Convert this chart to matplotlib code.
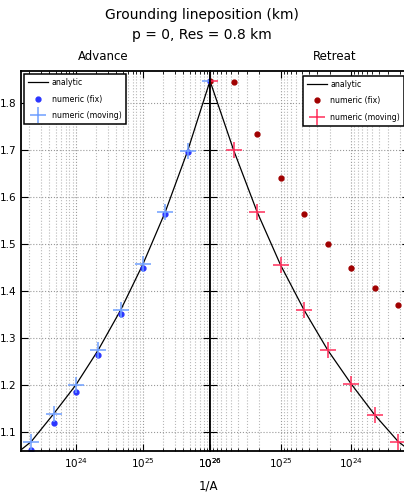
import matplotlib
matplotlib.use("Agg")

import matplotlib.pyplot as plt
import numpy as np

# 1/A sample positions (advance runs up to 1e26, retreat runs back down)
inv_A = [2.15e23, 4.64e23, 1e24, 2.15e24, 4.64e24, 1e25, 2.15e25, 4.64e25, 1e26]

# analytic curve
analytic_x = [1.5e23] + inv_A
analytic_adv = [1.062, 1.080, 1.139, 1.201, 1.275, 1.360, 1.458, 1.569, 1.699, 1.848]
analytic_ret = [1.062, 1.080, 1.137, 1.203, 1.275, 1.360, 1.456, 1.569, 1.701, 1.848]

# advance
adv_fix = [1.062, 1.120, 1.186, 1.265, 1.351, 1.450, 1.564, 1.696, 1.848]
adv_moving = [1.080, 1.139, 1.201, 1.275, 1.360, 1.458, 1.569, 1.699, 1.848]

# retreat (same x positions, listed small -> large)
ret_fix = [1.371, 1.406, 1.449, 1.501, 1.564, 1.642, 1.734, 1.845, 1.848]
ret_moving = [1.080, 1.137, 1.203, 1.275, 1.360, 1.456, 1.569, 1.701, 1.848]

xmin, xmax = 10**23.18, 1e26
ylim = (1.06, 1.869)
yticks = [1.1, 1.2, 1.3, 1.4, 1.5, 1.6, 1.7, 1.8]


def style_axes(ax):
    ax.set_xscale("log")
    ax.set_ylim(*ylim)
    ax.set_yticks(yticks)
    ax.grid(True, which="major", axis="both", color="0.6", linestyle=":", linewidth=0.8)
    ax.grid(True, which="minor", axis="x", color="0.72", linestyle=":", linewidth=0.8)
    ax.tick_params(which="both", direction="in", top=True, right=True, labelsize=7.5)
    ax.tick_params(which="major", length=5)
    ax.tick_params(which="minor", length=2.5)
    for s in ax.spines.values():
        s.set_linewidth(1.3)


leg_opts = dict(prop={"size": 6.2, "stretch": "condensed"}, numpoints=1, fancybox=False,
                framealpha=1, edgecolor="black", handlelength=2.3,
                labelspacing=0.85, handletextpad=0.4, borderpad=0.5)

fig = plt.figure(figsize=(4.04, 4.94), dpi=100)
ax1 = fig.add_axes([21 / 404, 1 - 451 / 494, 189 / 404, 380 / 494])
ax2 = fig.add_axes([210 / 404, 1 - 451 / 494, 199 / 404, 380 / 494])

# advance panel
ax1.plot(analytic_x, analytic_adv, color="black", lw=0.9, label="analytic")
ax1.plot(inv_A, adv_fix, "o", color="#2b35ff", ms=3.5, label="numeric (fix)")
ax1.plot(inv_A, adv_moving, "+", color="#6f9fff", ms=12, mew=1.1, label="numeric (moving)")
style_axes(ax1)
ax1.set_xlim(xmin, xmax)
leg = ax1.legend(loc="upper left", borderaxespad=0.35, **leg_opts)
leg.get_frame().set_linewidth(1.1)

# retreat panel
ax2.plot(analytic_x, analytic_ret, color="black", lw=0.9, label="analytic")
ax2.plot(inv_A, ret_fix, "o", color="#a00000", ms=3.5, label="numeric (fix)")
ax2.plot(inv_A, ret_moving, "+", color="#ff2d5a", ms=12, mew=1.1, label="numeric (moving)")
style_axes(ax2)
ax2.set_xlim(xmax, xmin)
ax2.tick_params(labelleft=False)
leg = ax2.legend(loc="upper right", borderaxespad=0.55, **leg_opts)
leg.get_frame().set_linewidth(1.1)

fig.text(0.5, 1 - 15 / 494, "Grounding lineposition (km)", ha="center", va="center", fontsize=10)
fig.text(0.5, 1 - 35 / 494, "p = 0, Res = 0.8 km", ha="center", va="center", fontsize=10)
fig.text(103 / 404, 1 - 56 / 494, "Advance", ha="center", va="center", fontsize=8.5)
fig.text(335 / 404, 1 - 56 / 494, "Retreat", ha="center", va="center", fontsize=8.5)
fig.text(208 / 404, 1 - 486 / 494, "1/A", ha="center", va="center", fontsize=8.5)

plt.savefig("out.png", dpi=100)
